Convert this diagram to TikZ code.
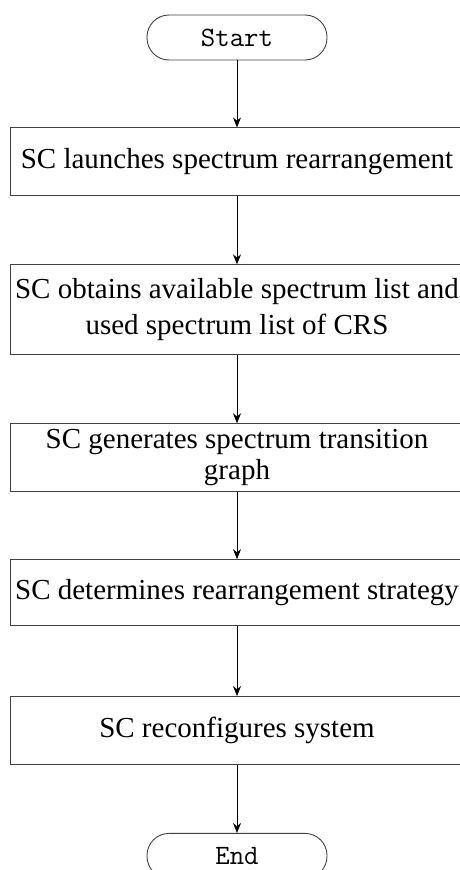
\documentclass[tikz,border=0pt]{standalone}
\usepackage{fontspec}
\setmainfont{Liberation Serif}
\usetikzlibrary{positioning, arrows.meta}

\begin{document}
\begin{tikzpicture}[
          x=1pt, y=1pt,
          node distance=68pt,
          every node/.style={draw=black!75, line width=0.9pt, inner sep=0pt},
          stepbox/.style={rectangle, minimum width=454pt, minimum height=68pt,
            align=center, font=\fontsize{29}{36}\selectfont},
          term/.style={rectangle, rounded corners=22pt, minimum width=180pt,
            minimum height=45pt, font=\ttfamily\fontsize{28}{30}\selectfont},
          flow/.style={draw=black, line width=0.8pt, -{Stealth[length=10pt, width=8pt]}}
        ]
          \useasboundingbox (0,0) rectangle (459,-870);
          \node[term] (start) at (237,-37.5) {Start};
          \node[stepbox, below=67pt of start] (launch) {SC launches spectrum rearrangement};
          \node[stepbox, minimum height=90pt, below=of launch] (obtain)
            {SC obtains available spectrum list and\\used spectrum list of CRS};
          \node[stepbox, font=\fontsize{29}{31}\selectfont, below=of obtain] (graph)
            {SC generates spectrum transition\\graph};
          \node[stepbox, minimum height=66pt, below=67pt of graph] (strategy)
            {SC determines rearrangement strategy};
          \node[stepbox, below=70pt of strategy] (reconf) {SC reconfigures system};
          \node[term, below=of reconf] (end) {End};

          \draw[flow] (start) -- (launch);
          \draw[flow] (launch) -- (obtain);
          \draw[flow] (obtain) -- (graph);
          \draw[flow] (graph) -- (strategy);
          \draw[flow] (strategy) -- (reconf);
          \draw[flow] (reconf) -- (end);
        \end{tikzpicture}
\end{document}
